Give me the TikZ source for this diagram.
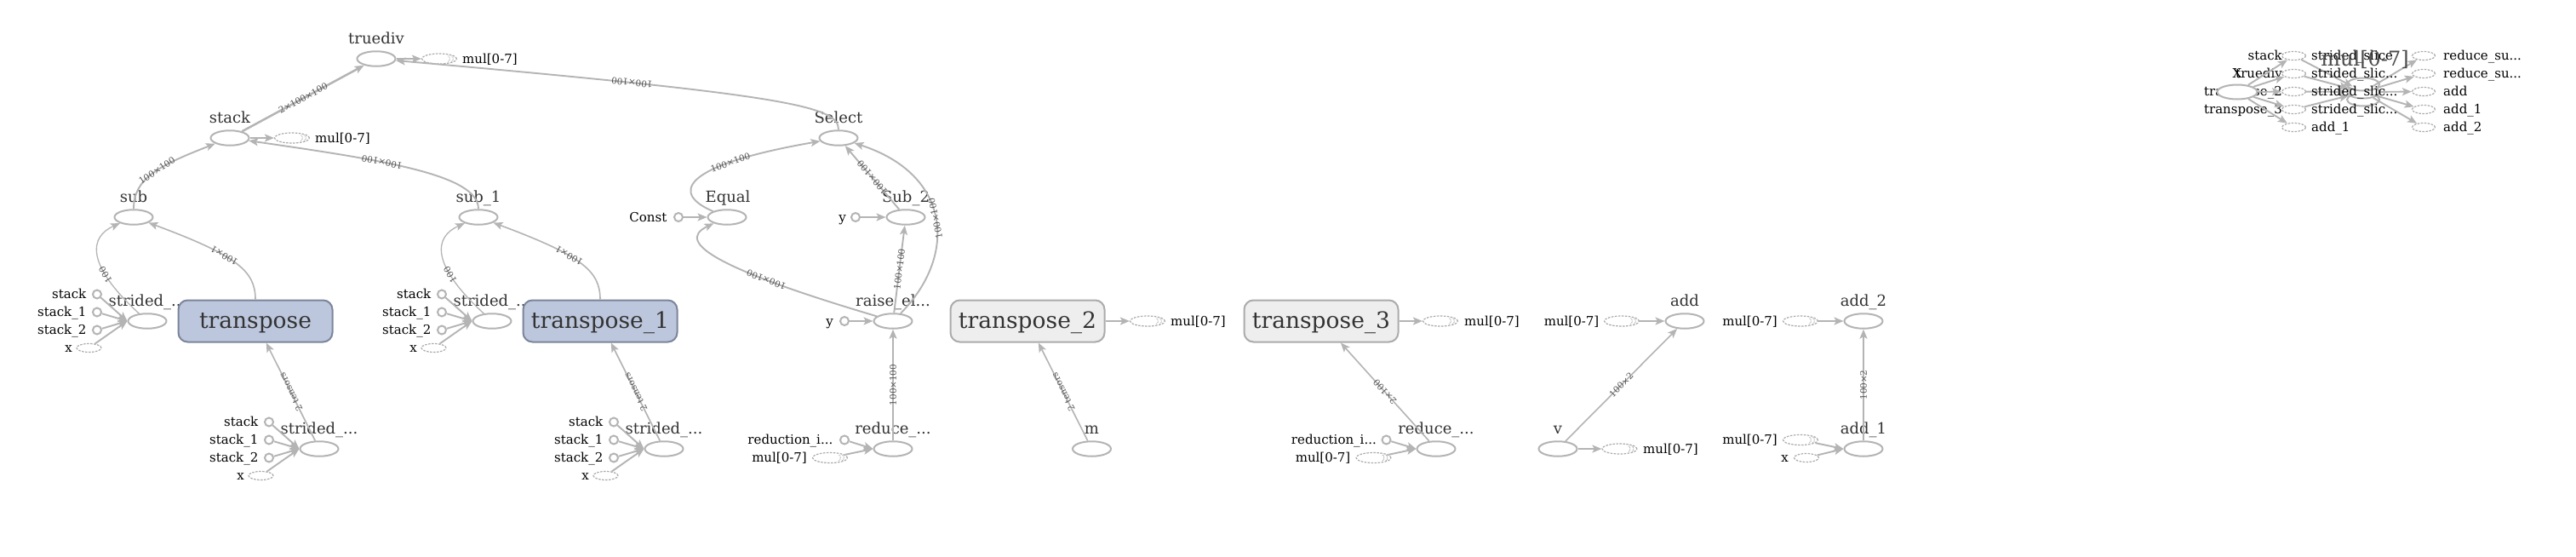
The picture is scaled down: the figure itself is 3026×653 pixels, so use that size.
\documentclass[tikz,border=0pt]{standalone}
\usepackage{fontspec}
\setmainfont{DejaVu Serif}
\usetikzlibrary{arrows.meta,shapes.geometric}
\definecolor{linec}{HTML}{B4B4B4}
\definecolor{labc}{HTML}{333333}
\definecolor{elabc}{HTML}{555555}
\definecolor{bluefill}{HTML}{BCC6DC}
\definecolor{bluedraw}{HTML}{7C869A}
\definecolor{grayfill}{HTML}{EEEEEE}
\definecolor{graydraw}{HTML}{ABABAB}
\definecolor{bridgec}{HTML}{ABABAB}
\tikzset{
  op/.style={ellipse, draw=linec, line width=2pt, fill=white, minimum width=45pt, minimum height=17.5pt, inner sep=0pt},
  opbox/.style={rectangle, rounded corners=11pt, line width=2pt, minimum width=181pt, minimum height=49pt, inner sep=0pt, font=\fontsize{26.5}{30}\selectfont, text=labc, text height=23pt, text depth=6.5pt},
  bluebox/.style={opbox, fill=bluefill, draw=bluedraw},
  graybox/.style={opbox, fill=grayfill, draw=graydraw},
  inp/.style={circle, draw=linec, line width=2pt, fill=white, minimum size=10pt, inner sep=0pt},
  bridge/.style={ellipse, draw=bridgec, dash pattern=on 2.5pt off 1.5pt, line width=1.2pt, fill=white, minimum width=29pt, minimum height=10pt, inner sep=0pt},
  sbridge/.style={bridge, minimum width=41pt, minimum height=12pt, path picture={
     \draw[bridgec, line width=0.9pt, dash pattern=on 1pt off 0.8pt]
       ([xshift=-10pt,yshift=-3.5pt]path picture bounding box.east) arc[start angle=-60, end angle=60, radius=4pt]
       ([xshift=-6pt,yshift=-3.5pt]path picture bounding box.east) arc[start angle=-60, end angle=60, radius=4pt];}},
  nlab/.style={font=\fontsize{18}{21}\selectfont, text=labc, anchor=base, inner sep=0pt},
  slab/.style={font=\fontsize{15}{18}\selectfont, text=black, inner sep=0pt},
  sle/.style={slab, anchor=base east},
  slw/.style={slab, anchor=base west},
  conn/.style={draw=linec, line width=1.9pt, -{Stealth[length=11pt, width=9pt, inset=2.5pt]}},
  connT/.style={conn, line width=2.5pt},
  connM/.style={conn, line width=1.6pt},
  connS/.style={conn, line width=1.3pt},
  elab/.style={font=\fontsize{10.4}{12}\selectfont, text=elabc, sloped, allow upside down, anchor=center, inner sep=0pt},
}
\begin{document}
\begin{tikzpicture}[x=1pt, y=-1pt]
\useasboundingbox (0,0) rectangle (3026,653);
\fill[white] (0,0) rectangle (3026,653);

% ---------- upper left ----------
\node[op] (truediv) at (442,69) {};
\node[nlab] (truedivL) at (442,51.6) {truediv};
\node[sbridge] (tdB) at (516,69) {};
\node[slw] (tdBL) at (543,74) {mul[0-7]};

\node[op] (stack) at (270,162) {};
\node[nlab] (stackL) at (270,144.6) {stack};
\node[sbridge] (stB) at (343,162) {};
\node[slw] (stBL) at (370,167) {mul[0-7]};

\node[op] (sub) at (157,255) {};
\node[nlab] (subL) at (157,237.6) {sub};
\node[op] (sub1) at (562,255) {};
\node[nlab] (sub1L) at (562,237.6) {sub\_1};

% strided 1 (upper)
\node[op] (sl1) at (173,377) {};
\node[nlab] (sl1L) at (173,359.6) {strided\_...};
\node[inp] (sl1a) at (114,345.5) {};
\node[inp] (sl1b) at (114,366.5) {};
\node[inp] (sl1c) at (114,387.5) {};
\node[bridge] (sl1d) at (104.5,408.5) {};
\node[sle] (sl1aL) at (101.5,350.5) {stack};
\node[sle] (sl1bL) at (101.5,371.5) {stack\_1};
\node[sle] (sl1cL) at (101.5,392.5) {stack\_2};
\node[sle] (sl1dL) at (85,413.5) {x};

% strided 2 (upper)
\node[op] (sl2) at (578,377) {};
\node[nlab] (sl2L) at (578,359.6) {strided\_...};
\node[inp] (sl2a) at (519,345.5) {};
\node[inp] (sl2b) at (519,366.5) {};
\node[inp] (sl2c) at (519,387.5) {};
\node[bridge] (sl2d) at (509.5,408.5) {};
\node[sle] (sl2aL) at (506.5,350.5) {stack};
\node[sle] (sl2bL) at (506.5,371.5) {stack\_1};
\node[sle] (sl2cL) at (506.5,392.5) {stack\_2};
\node[sle] (sl2dL) at (490,413.5) {x};

\node[bluebox] (tr) at (300,377) {transpose};
\node[bluebox] (tr1) at (705,377) {transpose\_1};

% strided bottom 1
\node[op] (bsl1) at (375,527) {};
\node[nlab] (bsl1L) at (375,509.6) {strided\_...};
\node[inp] (bsl1a) at (316,495.5) {};
\node[inp] (bsl1b) at (316,516.5) {};
\node[inp] (bsl1c) at (316,537.5) {};
\node[bridge] (bsl1d) at (306.5,558.5) {};
\node[sle] (bsl1aL) at (303.5,500.5) {stack};
\node[sle] (bsl1bL) at (303.5,521.5) {stack\_1};
\node[sle] (bsl1cL) at (303.5,542.5) {stack\_2};
\node[sle] (bsl1dL) at (287,563.5) {x};

% strided bottom 2
\node[op] (bsl2) at (780,527) {};
\node[nlab] (bsl2L) at (780,509.6) {strided\_...};
\node[inp] (bsl2a) at (721,495.5) {};
\node[inp] (bsl2b) at (721,516.5) {};
\node[inp] (bsl2c) at (721,537.5) {};
\node[bridge] (bsl2d) at (711.5,558.5) {};
\node[sle] (bsl2aL) at (708.5,500.5) {stack};
\node[sle] (bsl2bL) at (708.5,521.5) {stack\_1};
\node[sle] (bsl2cL) at (708.5,542.5) {stack\_2};
\node[sle] (bsl2dL) at (692,563.5) {x};

% ---------- middle ----------
\node[op] (select) at (985,162) {};
\node[nlab] (selectL) at (985,144.6) {Select};
\node[op] (equal) at (854,255) {};
\node[nlab] (equalL) at (855,237.6) {Equal};
\node[inp] (const) at (797,255) {};
\node[sle] (constL) at (783.5,260) {Const};
\node[op] (sub2) at (1064,255) {};
\node[nlab] (sub2L) at (1064,237.6) {Sub\_2};
\node[inp] (y1) at (1005,255) {};
\node[sle] (y1L) at (994,260) {y};
\node[op] (raise) at (1049,377) {};
\node[nlab] (raiseL) at (1049,359.6) {raise\_el...};
\node[inp] (y2) at (992,377) {};
\node[sle] (y2L) at (979,382) {y};
\node[op] (red1) at (1049,527) {};
\node[nlab] (red1L) at (1049,509.6) {reduce\_...};
\node[inp] (red1a) at (992,516.5) {};
\node[sle] (red1aL) at (978.5,521.5) {reduction\_i...};
\node[sbridge] (red1b) at (975,537.5) {};
\node[sle] (red1bL) at (948,542.5) {mul[0-7]};

\node[graybox] (tr2) at (1207,377) {transpose\_2};
\node[sbridge] (tr2B) at (1348,377) {};
\node[slw] (tr2BL) at (1375,382) {mul[0-7]};
\node[op] (m) at (1282.5,527) {};
\node[nlab] (mL) at (1282.5,509.6) {m};

\node[graybox] (tr3) at (1552,377) {transpose\_3};
\node[sbridge] (tr3B) at (1692,377) {};
\node[slw] (tr3BL) at (1720,382) {mul[0-7]};
\node[op] (red2) at (1687,527) {};
\node[nlab] (red2L) at (1687,509.6) {reduce\_...};
\node[inp] (red2a) at (1628.5,516.5) {};
\node[sle] (red2aL) at (1617,521.5) {reduction\_i...};
\node[sbridge] (red2b) at (1613.5,537.5) {};
\node[sle] (red2bL) at (1586.5,542.5) {mul[0-7]};

\node[op] (add) at (1979,377) {};
\node[nlab] (addL) at (1979,359.6) {add};
\node[sbridge] (addB) at (1905,377) {};
\node[sle] (addBL) at (1878.5,382) {mul[0-7]};
\node[op] (v) at (1830,527) {};
\node[nlab] (vL) at (1830,509.6) {v};
\node[sbridge] (vB) at (1902.5,527) {};
\node[slw] (vBL) at (1930,532) {mul[0-7]};

\node[op] (add2) at (2189,377) {};
\node[nlab] (add2L) at (2189,359.6) {add\_2};
\node[sbridge] (add2B) at (2115,377) {};
\node[sle] (add2BL) at (2088,382) {mul[0-7]};
\node[op] (add1) at (2189,527) {};
\node[nlab] (add1L) at (2189,509.6) {add\_1};
\node[sbridge] (add1a) at (2115,516.5) {};
\node[sle] (add1aL) at (2088,521.5) {mul[0-7]};
\node[bridge] (add1b) at (2122,537.5) {};
\node[sle] (add1bL) at (2101,542.5) {x};

% ---------- edges ----------
\draw[connT] (stack) -- node[elab]{2×100×100} (truediv);
\draw[conn] (truediv) -- (tdB);
\draw[conn] (stack) -- (stB);
\draw[conn] (sub) .. controls (157,210) and (185,195) .. node[elab,pos=.55]{100×100} (stack);
\draw[conn] (sub1) .. controls (562,205) and (450,188) .. node[elab,pos=.62]{100×100} (stack);
\draw[conn] (select) .. controls (985,125) and (930,112) .. node[elab,pos=.75]{100×100} (truediv);
\draw[connM] (tr) .. controls (300,318) and (278,300) .. node[elab,pos=.6]{100×1} (sub);
\draw[connS] (sl1) .. controls (100,310) and (105,278) .. node[elab,pos=.3]{100} (sub);
\draw[connM] (tr1) .. controls (705,318) and (683,300) .. node[elab,pos=.6]{100×1} (sub1);
\draw[connS] (sl2) .. controls (505,310) and (510,278) .. node[elab,pos=.3]{100} (sub1);

\draw[conn] (sl1a) -- (sl1.west);
\draw[conn] (sl1b) -- (sl1.west);
\draw[conn] (sl1c) -- (sl1.west);
\draw[conn] (sl1d) -- (sl1.west);
\draw[conn] (sl2a) -- (sl2.west);
\draw[conn] (sl2b) -- (sl2.west);
\draw[conn] (sl2c) -- (sl2.west);
\draw[conn] (sl2d) -- (sl2.west);
\draw[conn] (bsl1a) -- (bsl1.west);
\draw[conn] (bsl1b) -- (bsl1.west);
\draw[conn] (bsl1c) -- (bsl1.west);
\draw[conn] (bsl1d) -- (bsl1.west);
\draw[conn] (bsl2a) -- (bsl2.west);
\draw[conn] (bsl2b) -- (bsl2.west);
\draw[conn] (bsl2c) -- (bsl2.west);
\draw[conn] (bsl2d) -- (bsl2.west);
\draw[connM] (bsl1) -- node[elab]{2 tensors} (tr);
\draw[connM] (bsl2) -- node[elab]{2 tensors} (tr1);

\draw[conn] (const) -- (equal);
\draw[conn] (y1) -- (sub2);
\draw[conn] (y2) -- (raise);
\draw[conn] (equal) .. controls (790,228) and (795,195) .. node[elab,pos=.72]{100×100} (select);
\draw[conn] (sub2) -- node[elab]{100×100} (select);
\draw[conn] (raise) .. controls (1125,300) and (1118,205) .. node[elab,pos=.5]{100×100} (select);
\draw[conn] (raise) -- node[elab]{100×100} (sub2);
\draw[conn] (raise) .. controls (850,318) and (790,285) .. node[elab,pos=.3]{100×100} (equal);
\draw[conn] (red1) -- node[elab]{100×100} (raise);
\draw[conn] (red1a) -- (red1.west);
\draw[conn] (red1b) -- (red1.west);

\draw[conn] (tr2) -- (tr2B);
\draw[connM] (m) -- node[elab]{2 tensors} (tr2);
\draw[conn] (tr3) -- (tr3B);
\draw[connM] (red2) -- node[elab]{2×100} (tr3);
\draw[conn] (red2a) -- (red2.west);
\draw[conn] (red2b) -- (red2.west);

\draw[conn] (addB) -- (add);
\draw[connM] (v) -- node[elab]{100×2} (add);
\draw[conn] (v) -- (vB);
\draw[conn] (add2B) -- (add2);
\draw[connM] (add1) -- node[elab]{100×2} (add2);
\draw[conn] (add1a) -- (add1.west);
\draw[conn] (add1b) -- (add1.west);

% ---------- top right cluster ----------
\node[sle] (caL1) at (2681,70.5) {stack};
\node[sle] (caL2) at (2681,91.5) {truediv};
\node[sle] (caL3) at (2681,112.5) {transpose\_2};
\node[sle] (caL4) at (2681,133.5) {transpose\_3};
\node[bridge, minimum width=28pt] (ca1) at (2694.5,65.5) {};
\node[bridge, minimum width=28pt] (ca2) at (2694.5,86.5) {};
\node[bridge, minimum width=28pt] (ca3) at (2694.5,107.5) {};
\node[bridge, minimum width=28pt] (ca4) at (2694.5,128.5) {};
\node[bridge, minimum width=28pt] (ca5) at (2694.5,149.5) {};
\node[op, minimum width=47pt, minimum height=17pt] (X) at (2628,108) {};
\node[slab, anchor=base] (XL) at (2628,91) {X};
\node[op, minimum width=38pt, minimum height=15pt] (mul3) at (2776,117) {};
\node[op, minimum width=38pt, minimum height=15pt] (mul2) at (2776,108) {};
\node[op, minimum width=38pt, minimum height=15pt] (mul1) at (2776,99) {};
\node[bridge, minimum width=27pt] (cb1) at (2847,65.5) {};
\node[bridge, minimum width=27pt] (cb2) at (2847,86.5) {};
\node[bridge, minimum width=27pt] (cb3) at (2847,107.5) {};
\node[bridge, minimum width=27pt] (cb4) at (2847,128.5) {};
\node[bridge, minimum width=27pt] (cb5) at (2847,149.5) {};

\draw[conn] (X) -- (ca1);
\draw[conn] (X) -- (ca2);
\draw[conn] (X) -- (ca3);
\draw[conn] (X) -- (ca4);
\draw[conn] (X) -- (ca5);
\draw[conn] (ca1) -- (mul2);
\draw[conn] (ca2) -- (mul2);
\draw[conn] (ca3) -- (mul2);
\draw[conn] (ca4) -- (mul2);
\draw[conn] (mul2) -- (cb1);
\draw[conn] (mul2) -- (cb2);
\draw[conn] (mul2) -- (cb3);
\draw[conn] (mul2) -- (cb4);
\draw[conn] (mul2) -- (cb5);

\node[slw] (caR1) at (2715,70.5) {strided\_slice};
\node[slw] (caR2) at (2715,91.5) {strided\_slic...};
\node[slw] (caR3) at (2715,112.5) {strided\_slic...};
\node[slw] (caR4) at (2715,133.5) {strided\_slic...};
\node[slw] (caR5) at (2715,154.5) {add\_1};
\node[nlab, font=\fontsize{24}{28}\selectfont, text=black!70] (mulL) at (2778,77) {mul[0-7]};
\node[slw] (cbL1) at (2870,70.5) {reduce\_su...};
\node[slw] (cbL2) at (2870,91.5) {reduce\_su...};
\node[slw] (cbL3) at (2870,112.5) {add};
\node[slw] (cbL4) at (2870,133.5) {add\_1};
\node[slw] (cbL5) at (2870,154.5) {add\_2};
\end{tikzpicture}
\end{document}
